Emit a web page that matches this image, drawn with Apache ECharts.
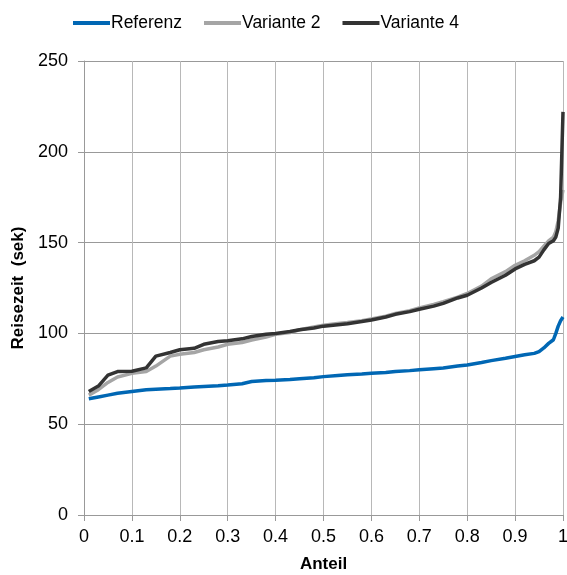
<!DOCTYPE html>
<html>
<head>
<meta charset="utf-8">
<script src="https://cdn.jsdelivr.net/npm/echarts@6/dist/echarts.min.js"></script>
<style>
  html, body { margin: 0; padding: 0; background: #fff; }
  #chart { width: 567px; height: 575px; }
</style>
</head>
<body>
<div id="chart"></div>
<script>
// Anteil (x) Stützstellen
var anteil = [0.01, 0.03, 0.05, 0.07, 0.1, 0.13, 0.15, 0.18, 0.2, 0.23, 0.25, 0.28, 0.3, 0.33, 0.35, 0.38,
    0.4, 0.43, 0.45, 0.48, 0.5, 0.53, 0.55, 0.58, 0.6, 0.63, 0.65, 0.68, 0.7, 0.73, 0.75, 0.78,
    0.8, 0.83, 0.85, 0.88, 0.9, 0.92, 0.94, 0.95, 0.96, 0.97, 0.98, 0.985, 0.99, 0.995, 1.0];

var referenz = [64, 65, 66, 67, 68, 69, 69.3, 69.7, 70, 70.5, 70.8, 71.2, 71.6, 72.3, 73.5, 74,
    74.2, 74.6, 75, 75.6, 76.2, 76.8, 77.2, 77.6, 78, 78.5, 79, 79.5, 80, 80.6, 81, 82,
    82.6, 84, 85, 86.3, 87.3, 88.2, 89, 90, 92, 94.5, 96.5, 100, 104, 107, 109];

var variante2 = [66, 69, 73, 76, 78, 79, 82, 87.5, 88.5, 89.5, 91, 92.5, 94, 95, 96.4, 98,
    99.5, 100.5, 102, 103.5, 104.5, 105.5, 106, 107, 108, 109.5, 111, 112.5, 114, 116, 117.5, 120,
    122, 126, 130, 134, 137.5, 140, 143, 145, 148, 151, 153, 156, 162, 172, 179];

var variante4 = [68, 71, 77, 79, 79.2, 81, 87.5, 89.5, 91, 91.8, 94, 95.5, 96, 97, 98.3, 99.5,
    100, 101, 102, 103, 104, 104.8, 105.3, 106.5, 107.4, 109, 110.5, 112, 113.3, 115, 116.5, 119.5,
    121, 125, 128, 132, 135.5, 138, 140, 142, 146, 149.5, 151, 153, 158, 175, 222];

function pairs(ys) {
    var out = [];
    for (var i = 0; i < anteil.length; i++) {
        out.push([anteil[i], ys[i]]);
    }
    return out;
}

var fontFam = '"Liberation Sans", Arial, sans-serif';

var option = {
    animation: false,
    textStyle: { fontFamily: fontFam },
    legend: {
        top: 9,
        left: 68,
        itemWidth: 37,
        itemHeight: 4,
        itemGap: 22,
        icon: 'rect',
        textStyle: { fontSize: 17.5, color: '#000', fontFamily: fontFam, padding: [0, 0, 0, -4] },
        data: ['Referenz', 'Variante 2', 'Variante 4']
    },
    grid: {
        left: 84,
        right: 4,
        top: 61,
        bottom: 60,
        outerBoundsMode: 'none'
    },
    xAxis: {
        type: 'value',
        min: 0,
        max: 1,
        interval: 0.1,
        name: 'Anteil',
        nameLocation: 'middle',
        nameGap: 41,
        nameTextStyle: { fontSize: 17, fontWeight: 'bold', color: '#000', fontFamily: fontFam },
        axisLine: { show: true, lineStyle: { color: '#999', width: 1 } },
        axisTick: { show: true, length: 6, lineStyle: { color: '#999' } },
        axisLabel: { fontSize: 18, color: '#000', margin: 13, fontFamily: fontFam,
            formatter: function (v) { return String(Math.round(v * 10) / 10); } },
        splitLine: { show: true, lineStyle: { color: '#b8b8b8', width: 1 } }
    },
    yAxis: {
        type: 'value',
        min: 0,
        max: 250,
        interval: 50,
        name: 'Reisezeit  (sek)',
        nameLocation: 'middle',
        nameGap: 56,
        nameTextStyle: { fontSize: 17, fontWeight: 'bold', color: '#000', fontFamily: fontFam },
        axisLine: { show: true, lineStyle: { color: '#999', width: 1 } },
        axisTick: { show: true, length: 6, lineStyle: { color: '#999' } },
        axisLabel: { fontSize: 18, color: '#000', margin: 16, fontFamily: fontFam },
        splitLine: { show: true, lineStyle: { color: '#999', width: 1 } }
    },
    series: [
        {
            name: 'Referenz',
            type: 'line',
            showSymbol: false,
            symbol: 'none',
            color: '#0067b4',
            lineStyle: { width: 3.5, color: '#0067b4' },
            data: pairs(referenz)
        },
        {
            name: 'Variante 2',
            type: 'line',
            showSymbol: false,
            symbol: 'none',
            color: '#a5a5a5',
            lineStyle: { width: 3.5, color: '#a5a5a5' },
            data: pairs(variante2)
        },
        {
            name: 'Variante 4',
            type: 'line',
            showSymbol: false,
            symbol: 'none',
            color: '#333333',
            lineStyle: { width: 3.5, color: '#333333' },
            data: pairs(variante4)
        }
    ]
};

var chart = echarts.init(document.getElementById('chart'));
chart.setOption(option);
</script>
</body>
</html>
